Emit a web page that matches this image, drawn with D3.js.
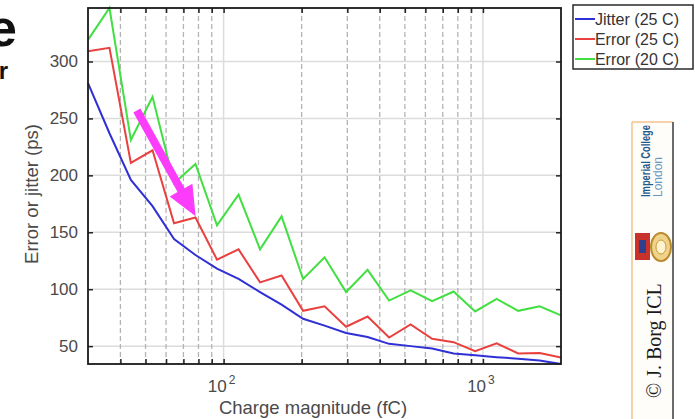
<!DOCTYPE html>
<html>
<head>
<meta charset="utf-8">
<script src="https://cdn.jsdelivr.net/npm/d3@7"></script>
<style>
  html, body { margin: 0; padding: 0; background: #fff; }
  svg { display: block; font-family: "Liberation Sans", Arial, Helvetica, sans-serif; }
</style>
</head>
<body>
<svg id="chart" width="695" height="419"></svg>
<script>
// Charge magnitude samples (fC), log-spaced from 30 to 2000
const charge = [30, 36.3, 43.9, 53.2, 64.4, 77.9, 94.3, 114.2, 138.2, 167.3, 202.5, 245.1,
                296.7, 359.1, 434.7, 526.2, 636.9, 770.9, 933.1, 1129.5, 1367.1, 1654.8, 2000];

// Timing results (ps)
const jitter25 = [281, 237, 196, 173, 144, 130, 118, 109, 97.5, 86.5, 74, 68,
                  61.5, 58, 52, 50, 48, 43.5, 42, 40.3, 39, 37.4, 34.3];
const error25  = [309, 312, 211, 222, 158, 163, 126, 135, 106, 112, 81, 85,
                  67, 76, 57.5, 69, 56.5, 53.5, 45.5, 52.5, 43.5, 44, 40];
const error20  = [319, 347, 231, 269, 193, 210, 156, 183, 135, 164, 109, 128,
                  97.5, 117, 90, 99, 89.5, 98, 80.5, 91.5, 81, 85, 77];

const seriesNames  = ["Jitter (25 C)", "Error (25 C)", "Error (20 C)"];
const seriesColors = ["#2f2fd6", "#e8413f", "#42df42"];
const yTicks = [50, 100, 150, 200, 250, 300];
const xMajor = [100, 1000];
const xMinor = [40, 50, 60, 70, 80, 90, 200, 300, 400, 500, 600, 700, 800, 900];
const xTickLabels = [{v: 100, base: "10", exp: "2"}, {v: 1000, base: "10", exp: "3"}];

// Annotation arrow: tail and tip in data units (charge, ps)
const arrowFrom = [46.3, 257];
const arrowTo = [78, 164];

const svg = d3.select("#chart");
const plot = {left: 88, right: 561, top: 8, bottom: 364};

const allValues = jitter25.concat(error25, error20);
const x = d3.scaleLog().domain([30, 2000]).range([plot.left, plot.right]);
const y = d3.scaleLinear().domain(d3.extent(allValues)).range([plot.bottom, plot.top]);

// background of axes
svg.append("rect").attr("x", plot.left).attr("y", plot.top)
  .attr("width", plot.right - plot.left).attr("height", plot.bottom - plot.top)
  .attr("fill", "#fff");

// grid
const grid = svg.append("g");
grid.selectAll(".hg").data(yTicks).join("line")
  .attr("x1", plot.left).attr("x2", plot.right)
  .attr("y1", d => y(d)).attr("y2", d => y(d))
  .attr("stroke", "#dcdcdc").attr("stroke-width", 1.5);
grid.selectAll(".vmaj").data(xMajor).join("line")
  .attr("x1", d => x(d)).attr("x2", d => x(d))
  .attr("y1", plot.top).attr("y2", plot.bottom)
  .attr("stroke", "#dcdcdc").attr("stroke-width", 1.5);
grid.selectAll(".vmin").data(xMinor).join("line")
  .attr("x1", d => x(d)).attr("x2", d => x(d))
  .attr("y1", plot.top).attr("y2", plot.bottom)
  .attr("stroke", "#b4b4b4").attr("stroke-width", 1.3)
  .attr("stroke-dasharray", "5,3");

// series lines
const series = [jitter25, error25, error20];
const line = d3.line().x((d, i) => x(charge[i])).y(d => y(d));
svg.append("g").selectAll("path").data(series).join("path")
  .attr("d", d => line(d))
  .attr("fill", "none")
  .attr("stroke", (d, i) => seriesColors[i])
  .attr("stroke-width", 2)
  .attr("stroke-linejoin", "miter");

// axes with inward ticks
const tickColor = "#222";
const yLeft = svg.append("g").attr("transform", `translate(${plot.left},0)`)
  .call(d3.axisLeft(y).tickValues(yTicks).tickSizeInner(-5).tickSizeOuter(0).tickPadding(10));
const yRight = svg.append("g").attr("transform", `translate(${plot.right},0)`)
  .call(d3.axisRight(y).tickValues(yTicks).tickSizeInner(-5).tickSizeOuter(0).tickFormat(""));
const allX = xMajor.concat(xMinor);
const xBottom = svg.append("g").attr("transform", `translate(0,${plot.bottom})`)
  .call(d3.axisBottom(x).tickValues(allX).tickSizeInner(-5).tickSizeOuter(0).tickFormat(""));
const xTop = svg.append("g").attr("transform", `translate(0,${plot.top})`)
  .call(d3.axisTop(x).tickValues(allX).tickSizeInner(-5).tickSizeOuter(0).tickFormat(""));
[yLeft, yRight, xBottom, xTop].forEach(g => {
  g.select(".domain").remove();
  g.selectAll(".tick line").attr("stroke", tickColor).attr("stroke-width", 1.5);
});
yLeft.selectAll(".tick text")
  .attr("font-size", 17).attr("fill", "#4a4a4a")
  .attr("font-family", null);

// frame
svg.append("rect").attr("x", plot.left).attr("y", plot.top)
  .attr("width", plot.right - plot.left).attr("height", plot.bottom - plot.top)
  .attr("fill", "none").attr("stroke", "#1a1a1a").attr("stroke-width", 1.8);

// x tick labels with exponents
const xl = svg.append("g").selectAll("text").data(xTickLabels).join("text")
  .attr("x", d => x(d.v) - 2).attr("y", 392)
  .attr("text-anchor", "middle")
  .attr("font-size", 17).attr("fill", "#4a4a4a");
xl.append("tspan").text(d => d.base);
xl.append("tspan").attr("dx", 2).attr("dy", -8).attr("font-size", 12).text(d => d.exp);

// axis titles
svg.append("text")
  .attr("x", 313).attr("y", 414)
  .attr("text-anchor", "middle")
  .attr("font-size", 18.5).attr("fill", "#4a4a4a")
  .text("Charge magnitude (fC)");
svg.append("text")
  .attr("transform", "translate(38,194) rotate(-90)")
  .attr("text-anchor", "middle")
  .attr("font-size", 18.5).attr("fill", "#4a4a4a")
  .text("Error or jitter (ps)");

// annotation arrow
(function drawArrow() {
  const x0 = x(arrowFrom[0]), y0 = y(arrowFrom[1]);
  const x1 = x(arrowTo[0]), y1 = y(arrowTo[1]);
  const len = Math.hypot(x1 - x0, y1 - y0);
  const ux = (x1 - x0) / len, uy = (y1 - y0) / len;
  const px = -uy, py = ux;
  const headLen = 30, headHalf = 13, shaftHalf = 4;
  const bx = x1 - ux * headLen, by = y1 - uy * headLen;
  const pts = [
    [x0 + px * shaftHalf, y0 + py * shaftHalf],
    [bx + px * shaftHalf, by + py * shaftHalf],
    [bx + px * headHalf, by + py * headHalf],
    [x1, y1],
    [bx - px * headHalf, by - py * headHalf],
    [bx - px * shaftHalf, by - py * shaftHalf],
    [x0 - px * shaftHalf, y0 - py * shaftHalf]
  ];
  svg.append("polygon").attr("points", pts.map(p => p.join(",")).join(" "))
    .attr("fill", "#fb3cfb");
})();

// legend
const lg = svg.append("g");
lg.append("rect").attr("x", 573).attr("y", 5).attr("width", 120).attr("height", 64)
  .attr("fill", "#fff").attr("stroke", "#2a2a2a").attr("stroke-width", 1.5);
const rows = lg.selectAll("g.row").data(seriesNames).join("g")
  .attr("transform", (d, i) => `translate(0,${19 + i * 20})`);
rows.append("line").attr("x1", 575).attr("x2", 595).attr("y1", 0).attr("y2", 0)
  .attr("stroke", (d, i) => seriesColors[i]).attr("stroke-width", 2);
rows.append("text").attr("x", 595).attr("y", 6)
  .attr("font-size", 16.5).attr("fill", "#333")
  .attr("textLength", 84).attr("lengthAdjust", "spacingAndGlyphs")
  .text(d => d);

// slide fragments at the left edge
svg.append("text").attr("x", 17).attr("y", 46).attr("text-anchor", "end")
  .attr("font-size", 52).attr("font-weight", "bold").attr("fill", "#111").text("e");
svg.append("text").attr("x", 8).attr("y", 79).attr("text-anchor", "end")
  .attr("font-size", 24).attr("font-weight", "bold").attr("fill", "#111").text("r");

// copyright strip with college mark
const strip = svg.append("g");
strip.append("rect").attr("x", 632).attr("y", 122).attr("width", 41).attr("height", 300)
  .attr("fill", "#fffdf9");
strip.append("line").attr("x1", 632).attr("x2", 632).attr("y1", 122).attr("y2", 419)
  .attr("stroke", "#f2c38e").attr("stroke-width", 1.5);
strip.append("line").attr("x1", 632).attr("x2", 673).attr("y1", 122).attr("y2", 122)
  .attr("stroke", "#f2c38e").attr("stroke-width", 1.5);
strip.append("line").attr("x1", 673).attr("x2", 673).attr("y1", 122).attr("y2", 419)
  .attr("stroke", "#6b6b6b").attr("stroke-width", 2);
strip.append("text").attr("transform", "translate(650,197) rotate(-90)")
  .attr("font-size", 12.5).attr("font-weight", "bold").attr("fill", "#1e5b90")
  .attr("textLength", 72).attr("lengthAdjust", "spacingAndGlyphs")
  .text("Imperial College");
strip.append("text").attr("transform", "translate(662,197) rotate(-90)")
  .attr("font-size", 12.5).attr("fill", "#6a98c4")
  .attr("textLength", 40).attr("lengthAdjust", "spacingAndGlyphs")
  .text("London");
// crest
strip.append("rect").attr("x", 635).attr("y", 233).attr("width", 15).attr("height", 27)
  .attr("fill", "#c9322b");
strip.append("rect").attr("x", 639).attr("y", 240).attr("width", 7).attr("height", 13)
  .attr("fill", "#2e3f8f");
strip.append("ellipse").attr("cx", 661).attr("cy", 247).attr("rx", 10).attr("ry", 14)
  .attr("fill", "#f0d38a").attr("stroke", "#b98b2e").attr("stroke-width", 2);
strip.append("ellipse").attr("cx", 661).attr("cy", 247).attr("rx", 5).attr("ry", 7)
  .attr("fill", "#fff3cf").attr("stroke", "#c99a3c").attr("stroke-width", 1);
strip.append("text").attr("transform", "translate(661,398) rotate(-90)")
  .style("font-family", '"Liberation Serif", "Times New Roman", serif')
  .attr("font-size", 20).attr("fill", "#1a1a1a")
  .text("\u00a9 J. Borg ICL");
</script>
</body>
</html>
